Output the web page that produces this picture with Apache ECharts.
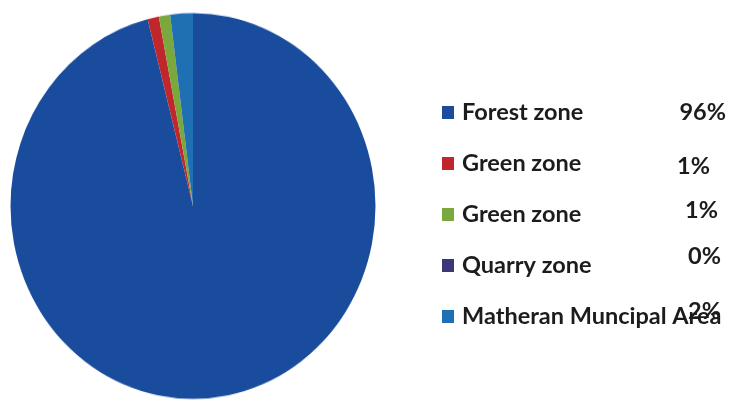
<!DOCTYPE html>
<html>
<head>
<meta charset="utf-8">
<script src="https://cdn.jsdelivr.net/npm/echarts@6/dist/echarts.min.js"></script>
<style>
  html, body { margin: 0; padding: 0; background: #ffffff; }
  #wrap { position: relative; width: 729px; height: 401px; overflow: hidden; }
  #pie { position: absolute; left: 0; top: 0; width: 400px; height: 401px;
         transform-origin: 193px 206px; transform: scaleY(1.057); }
  #key { position: absolute; left: 0; top: 0; width: 729px; height: 401px; }
</style>
</head>
<body>
<div id="wrap">
  <div id="pie"></div>
  <div id="key"></div>
</div>
<script>
// Land-use shares
const categories = ['Forest zone', 'Green zone', 'Green zone', 'Quarry zone', 'Matheran Muncipal Area'];
const shares = [96, 1, 1, 0, 2];
const shareLabels = ['96%', '1%', '1%', '0%', '2%'];
const colors = ['#1a4c9e', '#c0272d', '#7aa83c', '#3b3779', '#1f70b3'];

// Legend layout
const KEY = {
  markerX: 442, textX: 462, firstRowY: 112, rowGap: 51,
  // percentage labels: right edge x and centre y for each row
  pctRight: [726, 710, 718, 721, 721],
  pctY: [112, 166, 210, 256, 311]
};
const FONT = 'bold 23.5px Lato, "Liberation Sans", sans-serif';

const pieChart = echarts.init(document.getElementById('pie'), null, { renderer: 'canvas' });
pieChart.setOption({
  animation: false,
  series: [{
    type: 'pie',
    center: [193, 206],
    radius: [0, 182.5],
    startAngle: 90,
    clockwise: true,
    label: { show: false },
    labelLine: { show: false },
    emphasis: { disabled: true },
    itemStyle: { borderWidth: 0 },
    data: categories.map((name, i) => ({
      name: name,
      value: shares[i],
      itemStyle: { color: colors[i] }
    }))
  }]
});

const keyChart = echarts.init(document.getElementById('key'), null, { renderer: 'canvas' });
const elements = [];
categories.forEach((name, i) => {
  const y = KEY.firstRowY + KEY.rowGap * i;
  elements.push({
    type: 'rect',
    shape: { x: KEY.markerX, y: y - 6, width: 12, height: 13 },
    style: { fill: colors[i] }
  });
  elements.push({
    type: 'text',
    x: KEY.textX, y: y,
    style: {
      text: name, fill: '#1c1c1c', font: FONT,
      textAlign: 'left', textVerticalAlign: 'middle'
    }
  });
  elements.push({
    type: 'text',
    x: KEY.pctRight[i], y: KEY.pctY[i],
    style: {
      text: shareLabels[i], fill: '#1c1c1c', font: FONT,
      textAlign: 'right', textVerticalAlign: 'middle'
    }
  });
});
keyChart.setOption({ animation: false, graphic: { elements: elements } });
</script>
</body>
</html>
